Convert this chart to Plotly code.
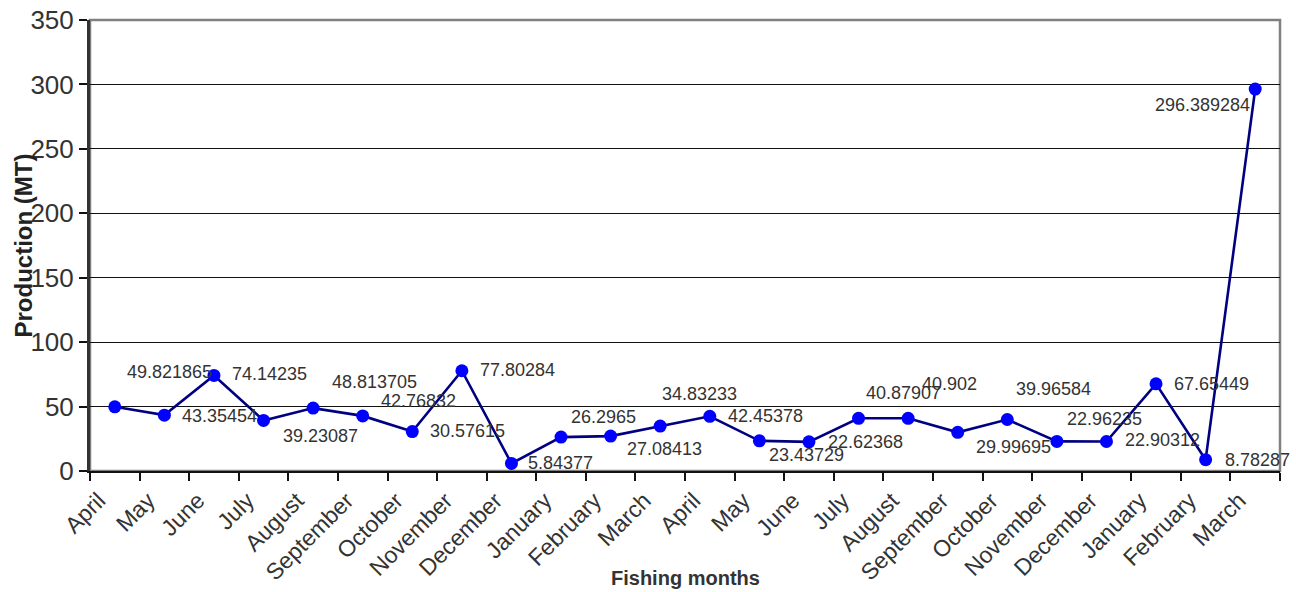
import plotly.graph_objects as go

# Monthly production over two fishing seasons (April to March)
months = ["April", "May", "June", "July", "August", "September", "October",
          "November", "December", "January", "February", "March",
          "April", "May", "June", "July", "August", "September", "October",
          "November", "December", "January", "February", "March"]
production = [49.821865, 43.35454, 74.14235, 39.23087, 48.813705, 42.76832,
              30.57615, 77.80284, 5.84377, 26.2965, 27.08413, 34.83233,
              42.45378, 23.43729, 22.62368, 40.87907, 40.902, 29.99695,
              39.96584, 22.96235, 22.90312, 67.65449, 8.78287, 296.389284]
value_labels = ["49.821865", "43.35454", "74.14235", "39.23087", "48.813705",
                "42.76832", "30.57615", "77.80284", "5.84377", "26.2965",
                "27.08413", "34.83233", "42.45378", "23.43729", "22.62368",
                "40.87907", "40.902", "29.99695", "39.96584", "22.96235",
                "22.90312", "67.65449", "8.78287", "296.389284"]
y_ticks = [0, 50, 100, 150, 200, 250, 300, 350]

# Pixel offsets of each value label from its point (right, down)
label_dx = [10, 16, 16, 17, 17, 16, 16, 16, 15, 8, 14, 0,
            16, 8, 17, 5, 12, 16, 7, 8, 17, 16, 17, -3]
label_dy = [-35, 1, -1, 16, -26, -15, -1, -1, 0, -20, 13, -32,
            0, 14, 0, -25, -34, 15, -31, -22, -1, 0, 0, 16]

FONT = "Liberation Sans, Arial, sans-serif"
TEXT = "#333333"

x_pos = list(range(len(months)))

fig = go.Figure()
fig.add_trace(go.Scatter(
    x=x_pos, y=production, mode="lines+markers",
    line=dict(color="#000080", width=2.6),
    marker=dict(color="#0000FF", size=13, line=dict(width=0)),
    showlegend=False, hoverinfo="skip",
))

annotations = []
for xi, yi, txt, dx, dy in zip(x_pos, production, value_labels, label_dx, label_dy):
    annotations.append(dict(
        x=xi, y=yi, xref="x", yref="y", text=txt, showarrow=False,
        xanchor="right" if dx < 0 else "left", yanchor="middle",
        xshift=dx, yshift=-dy,
        font=dict(family=FONT, size=18, color=TEXT),
    ))

# Rotated y axis title
annotations.append(dict(
    x=0, y=0.5, xref="paper", yref="paper", text="<b>Production (MT)</b>",
    showarrow=False, textangle=-90, xanchor="center", yanchor="middle",
    xshift=-67, font=dict(family=FONT, size=24, color="#222222"),
))
# x axis title
annotations.append(dict(
    x=0.5, y=0, xref="paper", yref="paper", text="<b>Fishing months</b>",
    showarrow=False, xanchor="center", yanchor="middle",
    yshift=-107, font=dict(family=FONT, size=20, color="#333333"),
))

fig.update_layout(
    width=1296, height=592,
    margin=dict(l=90, r=16, t=20, b=121),
    paper_bgcolor="white", plot_bgcolor="white",
    annotations=annotations,
    shapes=[dict(type="rect", xref="paper", yref="paper", x0=0, y0=0, x1=1, y1=1,
                 line=dict(color="#808080", width=2.5), layer="below")],
    xaxis=dict(
        range=[-0.5, len(months) - 0.5], automargin=False,
        tickmode="array", tickvals=x_pos, ticktext=months,
        tickangle=-45, ticks="", showgrid=False, zeroline=False,
        showline=True, linecolor="#111111", linewidth=2,
        ticklabelstandoff=5, ticklabelshift=-16,
        tickfont=dict(family=FONT, size=23, color=TEXT),
        minor=dict(tickmode="array",
                   tickvals=[i - 0.5 for i in range(len(months) + 1)],
                   ticks="outside", ticklen=8, tickwidth=1.5, tickcolor="#111111",
                   showgrid=False),
        fixedrange=True,
    ),
    yaxis=dict(
        range=[0, 350], tickmode="array", tickvals=y_ticks, automargin=False,
        ticks="outside", ticklen=8, tickwidth=1.5, tickcolor="#111111",
        showgrid=True, gridcolor="#111111", gridwidth=1,
        zeroline=False, showline=True, linecolor="#333333", linewidth=3,
        tickfont=dict(family=FONT, size=26, color=TEXT),
        fixedrange=True,
    ),
)

fig.write_html("out.html", config={"displayModeBar": False})
